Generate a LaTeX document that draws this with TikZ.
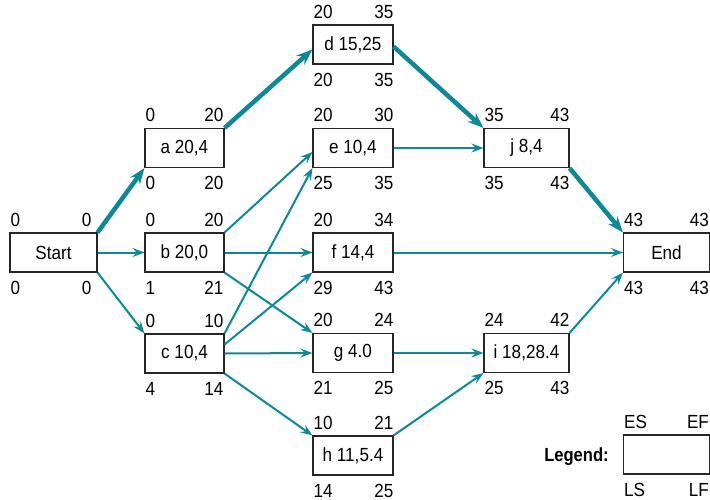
\documentclass[tikz,border=0pt]{standalone}
\usepackage{fontspec}
\usepackage{graphicx}
\setmainfont{Liberation Sans}[FakeStretch=0.9]
\usetikzlibrary{arrows.meta,calc}
\definecolor{tealA}{RGB}{10,138,150}
\newcommand\fs{\fontsize{19}{21}\selectfont}
\tikzset{
  box/.style={draw=black!85, line width=1.1pt, minimum height=39pt, inner sep=0pt, font=\fs},
  lab/.style={inner sep=0pt, font=\fs},
  arr/.style={draw=tealA, line width=2pt, -{Stealth[length=12pt,width=9pt,inset=4.5pt]}},
  crit/.style={draw=tealA, line width=4.5pt, -{Stealth[length=16pt,width=12pt,inset=5.5pt]}},
}
% name, position, width, text, ES, EF, LS, LF, right inset
\newcommand\actv[9]{%
  \node[box, minimum width=#3] (#1) at #2 {#4};
  \node[lab, anchor=base west] (#1-es) at ([xshift=1pt,yshift=6pt]#1.north west) {#5};
  \node[lab, anchor=base east] (#1-ef) at ([xshift=-#9,yshift=6pt]#1.north east) {#6};
  \node[lab, anchor=base west] (#1-ls) at ([xshift=1pt,yshift=-21.5pt]#1.south west) {#7};
  \node[lab, anchor=base east] (#1-lf) at ([xshift=-#9,yshift=-21.5pt]#1.south east) {#8};
}
\begin{document}
\begin{tikzpicture}[x=1pt,y=-1pt]
\useasboundingbox (0,0) rectangle (710,499);
\actv{start}{(53.5,252.5)}{87pt}{Start}{0}{0}{0}{0}{6pt}
\actv{a}{(184.5,148)}{79pt}{a 20,4}{0}{20}{0}{20}{1pt}
\actv{b}{(184.5,252.5)}{79pt}{b 20,0}{0}{20}{1}{21}{1pt}
\actv{c}{(184.5,353.5)}{79pt}{c 10,4}{0}{10}{4}{14}{1pt}
\actv{d}{(353,44.5)}{80pt}{d 15,25}{20}{35}{20}{35}{0pt}
\actv{e}{(353,148)}{80pt}{e 10,4}{20}{30}{25}{35}{0pt}
\actv{f}{(353,252.5)}{80pt}{f 14,4}{20}{34}{29}{43}{0pt}
\actv{g}{(353,353)}{80pt}{g 4.0}{20}{24}{21}{25}{0pt}
\actv{h}{(353,455.5)}{80pt}{h 11,5.4}{10}{21}{14}{25}{0pt}
\actv{j}{(526.5,148)}{85pt}{j 8,4}{35}{43}{35}{43}{0pt}
\actv{i}{(526.5,353)}{85pt}{i 18,28.4}{24}{42}{25}{43}{0pt}
\actv{end}{(666.5,252.5)}{86pt}{End}{43}{43}{43}{43}{1pt}
\actv{leg}{(666.5,454.5)}{86pt}{}{ES}{EF}{LS}{LF}{1pt}
\node[lab, anchor=base east] (legtxt) at ([xshift=-14pt,yshift=-6.5pt]leg.west) {\scalebox{0.97}[1]{\bfseries Legend:}};
% critical path
\draw[crit] (start.north east) -- (a.south west);
\draw[crit] (a.north east) -- ($(d.west)+(0,5)$);
\draw[crit] ($(d.east)+(0,2)$) -- (j.north west);
\draw[crit] (j.south east) -- (end.north west);
% other activities
\draw[arr] (start.east) -- (b.west);
\draw[arr] (start.south east) -- (c.north west);
\draw[arr] (b.north east) -- ($(e.west)+(0,4)$);
\draw[arr] (b.east) -- (f.west);
\draw[arr] (b.south east) -- (g.north west);
\draw[arr] (c.north east) -- (e.south west);
\draw[arr] ($(c.east)+(0,-9)$) -- (f.south west);
\draw[arr] (c.east) -- (g.west);
\draw[arr] (c.south east) -- (h.north west);
\draw[arr] (e.east) -- (j.west);
\draw[arr] (f.east) -- (end.west);
\draw[arr] (g.east) -- (i.west);
\draw[arr] (h.north east) -- (i.south west);
\draw[arr] (i.north east) -- (end.south west);
\end{tikzpicture}
\end{document}
